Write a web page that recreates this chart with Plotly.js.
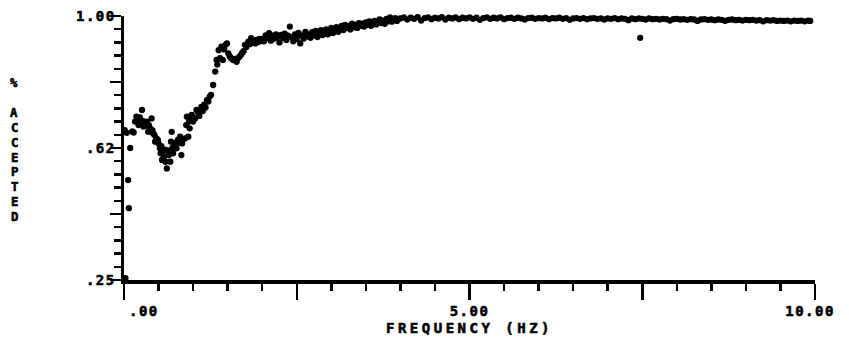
<!DOCTYPE html>
<html>
<head>
<meta charset="utf-8">
<script src="https://cdn.plot.ly/plotly-3.0.1.min.js"></script>
<style>
  html, body { margin: 0; padding: 0; background: #fff; }
  #chart { width: 849px; height: 340px; }
  .xtitle { letter-spacing: 3.5px; }
  .xtick text, .ytick text { letter-spacing: 1.5px; }
  .xtick text, .ytick text, .xtitle, .annotation-text { stroke: #000; stroke-width: 0.6px; }
</style>
</head>
<body>
<div id="chart"></div>
<script>
// ---- data ----
const freqA = [0.01,0.02,0.04,0.06,0.07,0.09,0.12,0.14,0.16,0.18,0.20,0.21,0.23,0.26,0.27,0.28,0.30,0.32,0.33,0.35,
  0.36,0.38,0.40,0.41,0.42,0.44,0.45,0.47,0.49,0.50,0.52,0.53,0.54,0.55,0.56,0.58,0.59,0.60,0.62,0.63,
  0.65,0.67,0.68,0.69,0.70,0.71,0.73,0.75,0.76,0.78,0.80,0.81,0.83,0.84,0.86,0.88,0.90,0.91,0.93,0.94,
  0.95,0.97,0.98,1.00,1.01,1.03,1.05,1.07,1.09,1.12,1.14,1.16,1.18,1.20,1.22,1.24,1.26,1.29,1.32,1.34,
  1.35,1.37,1.39,1.41,1.43,1.45,1.47,1.49,1.51,1.53,1.55,1.58,1.60,1.63,1.65,1.67,1.69,1.71,1.73,1.75,
  1.77,1.80,1.82,1.84,1.86,1.88,1.90,1.92,1.94,1.96,1.98];
const accA = [0.676,0.255,0.668,0.534,0.454,0.625,0.672,0.669,0.700,0.714,0.706,0.690,0.712,0.733,0.702,0.686,0.694,0.688,0.700,0.671,
  0.690,0.681,0.709,0.676,0.667,0.662,0.643,0.652,0.648,0.638,0.624,0.610,0.630,0.591,0.612,0.600,0.620,0.586,0.567,0.618,
  0.605,0.586,0.643,0.671,0.625,0.610,0.632,0.640,0.624,0.648,0.640,0.657,0.605,0.638,0.650,0.652,0.690,0.714,0.657,0.700,
  0.681,0.705,0.719,0.700,0.712,0.709,0.733,0.728,0.716,0.742,0.730,0.748,0.740,0.761,0.757,0.771,0.776,0.804,0.842,0.875,
  0.862,0.903,0.880,0.913,0.875,0.905,0.918,0.922,0.894,0.885,0.880,0.875,0.878,0.870,0.880,0.884,0.889,0.895,0.900,0.918,
  0.912,0.927,0.920,0.937,0.925,0.930,0.922,0.932,0.926,0.935,0.929];

const freqB = [2.000,2.025,2.050,2.075,2.100,2.125,2.150,2.175,2.200,2.225,2.250,2.275,2.300,2.325,2.350,2.375,2.400,2.425,2.450,2.475,
  2.500,2.525,2.550,2.575,2.600,2.625,2.650,2.675,2.700,2.725,2.750,2.775,2.800,2.825,2.850,2.875,2.900,2.925,2.950,2.975,
  3.000,3.025,3.050,3.075,3.100,3.125,3.150,3.175,3.200,3.225,3.250,3.275,3.300,3.325,3.350,3.375,3.400,3.425,3.450,3.475,
  3.500,3.525,3.550,3.575,3.600,3.625,3.650,3.675,3.700,3.725,3.750,3.775,3.800,3.825,3.850,3.875,3.900,3.925,3.950,3.975];
const accB = [0.935,0.928,0.945,0.938,0.951,0.930,0.944,0.936,0.948,0.941,0.925,0.946,0.938,0.950,0.932,0.944,0.970,0.940,0.928,0.948,
  0.935,0.952,0.922,0.944,0.936,0.955,0.942,0.948,0.938,0.954,0.945,0.958,0.940,0.952,0.960,0.946,0.955,0.962,0.948,0.958,
  0.966,0.952,0.960,0.968,0.955,0.964,0.972,0.960,0.975,0.966,0.972,0.962,0.978,0.968,0.975,0.966,0.980,0.972,0.978,0.970,
  0.982,0.975,0.985,0.972,0.980,0.986,0.976,0.984,0.990,0.980,0.987,0.978,0.992,0.985,0.996,0.984,0.990,0.994,0.986,0.992];

const freqC = [4.00,4.05,4.10,4.15,4.20,4.25,4.30,4.35,4.40,4.45,4.50,4.55,4.60,4.65,4.70,4.75,4.80,4.85,4.90,4.95,
  5.00,5.05,5.10,5.15,5.20,5.25,5.30,5.35,5.40,5.45,5.50,5.55,5.60,5.65,5.70,5.75,5.80,5.85,5.90,5.95,
  6.00,6.05,6.10,6.15,6.20,6.25,6.30,6.35,6.40,6.45,6.50,6.55,6.60,6.65,6.70,6.75,6.80,6.85,6.90,6.95,
  7.00,7.05,7.10,7.15,7.20,7.25,7.30,7.35,7.40,7.45,7.47,7.50,7.55,7.60,7.65,7.70,7.75,7.80,7.85,7.90,7.95,
  8.00,8.05,8.10,8.15,8.20,8.25,8.30,8.35,8.40,8.45,8.50,8.55,8.60,8.65,8.70,8.75,8.80,8.85,8.90,8.95,
  9.00,9.05,9.10,9.15,9.20,9.25,9.30,9.35,9.40,9.45,9.50,9.55,9.60,9.65,9.70,9.75,9.80,9.85,9.90,9.93];
const accC = [0.993,0.996,0.990,0.995,0.992,0.997,0.987,0.994,0.996,0.991,0.995,0.993,0.997,0.990,0.995,0.993,0.996,0.991,0.995,0.993,
  0.996,0.992,0.995,0.989,0.994,0.996,0.992,0.995,0.993,0.996,0.991,0.994,0.995,0.992,0.995,0.993,0.990,0.994,0.995,0.992,
  0.994,0.993,0.995,0.991,0.994,0.993,0.995,0.992,0.994,0.989,0.993,0.994,0.992,0.994,0.991,0.993,0.994,0.992,0.993,0.990,
  0.993,0.992,0.994,0.991,0.993,0.992,0.988,0.993,0.991,0.993,0.938,0.992,0.990,0.993,0.991,0.992,0.990,0.992,0.991,0.987,0.991,
  0.992,0.990,0.991,0.989,0.991,0.990,0.986,0.990,0.991,0.989,0.990,0.988,0.990,0.989,0.986,0.989,0.990,0.988,0.989,0.987,
  0.989,0.988,0.989,0.987,0.988,0.985,0.988,0.987,0.988,0.986,0.987,0.986,0.987,0.985,0.987,0.986,0.987,0.985,0.987,0.986];

const xTickVals = [0, 2.5, 5, 7.5, 10];
const xTickText = ['\u00a0\u00a0\u00a0\u00a0.00', '', '5.00', '', '10.00\u00a0'];
const yTickVals = [0.25, 0.4375, 0.625, 0.8125, 1.0];
const yTickText = ['.25', '', '.62', '', '1.00'];
const xTitle = 'FREQUENCY (HZ)';
const yTitleLetters = ['%', '', 'A', 'C', 'C', 'E', 'P', 'T', 'E', 'D'];

const freq = freqA.concat(freqB, freqC);
const acc = accA.concat(accB, accC);

const FONT = 'DejaVu Sans Mono, Liberation Mono, monospace';

const trace = {
  x: freq, y: acc,
  type: 'scatter', mode: 'markers',
  marker: { color: '#000', size: 6.3, line: { width: 0 } },
  cliponaxis: false,
  hoverinfo: 'x+y'
};

const axisCommon = {
  showgrid: false, zeroline: false, showline: true,
  linecolor: '#000', linewidth: 3.5,
  ticks: 'outside', tickcolor: '#000', tickwidth: 2.5,
  tickfont: { family: FONT, size: 14, color: '#000', weight: 'bold' },
  fixedrange: true
};

// stacked (upright) y-axis title: one annotation per letter
const LINE_H = 14.9;
const yTitleAnnotations = yTitleLetters.map((ch, i) => ({
  xref: 'paper', yref: 'paper',
  x: -0.159, y: 0.492, xanchor: 'center', yanchor: 'middle',
  yshift: ((yTitleLetters.length - 1) / 2 - i) * LINE_H,
  text: ch, showarrow: false,
  font: { family: FONT, size: 12.3, color: '#000', weight: 'bold' }
})).filter(a => a.text !== '');

const layout = {
  width: 849, height: 340,
  margin: { l: 124, r: 34, t: 16, b: 60 },
  paper_bgcolor: '#fff', plot_bgcolor: '#fff',
  font: { family: FONT, size: 14, color: '#000', weight: 'bold' },
  showlegend: false,
  xaxis: Object.assign({}, axisCommon, {
    range: [0, 10],
    tickmode: 'array', tickvals: xTickVals, ticktext: xTickText,
    ticklen: 16,
    minor: { tickmode: 'linear', tick0: 0, dtick: 0.5, ticks: 'outside', ticklen: 7, tickwidth: 2.5, tickcolor: '#000', showgrid: false },
    title: { text: xTitle, font: { family: FONT, size: 14, color: '#000', weight: 'bold' }, standoff: 6 }
  }),
  yaxis: Object.assign({}, axisCommon, {
    range: [0.25, 1.0],
    tickmode: 'array', tickvals: yTickVals, ticktext: yTickText,
    ticklen: 11,
    ticklabelstandoff: -9,
    minor: { tickmode: 'linear', tick0: 0.25, dtick: 0.0375, ticks: 'outside', ticklen: 7, tickwidth: 2.5, tickcolor: '#000', showgrid: false }
  }),
  annotations: yTitleAnnotations
};

Plotly.newPlot('chart', [trace], layout, { displayModeBar: false, staticPlot: true });
</script>
</body>
</html>
